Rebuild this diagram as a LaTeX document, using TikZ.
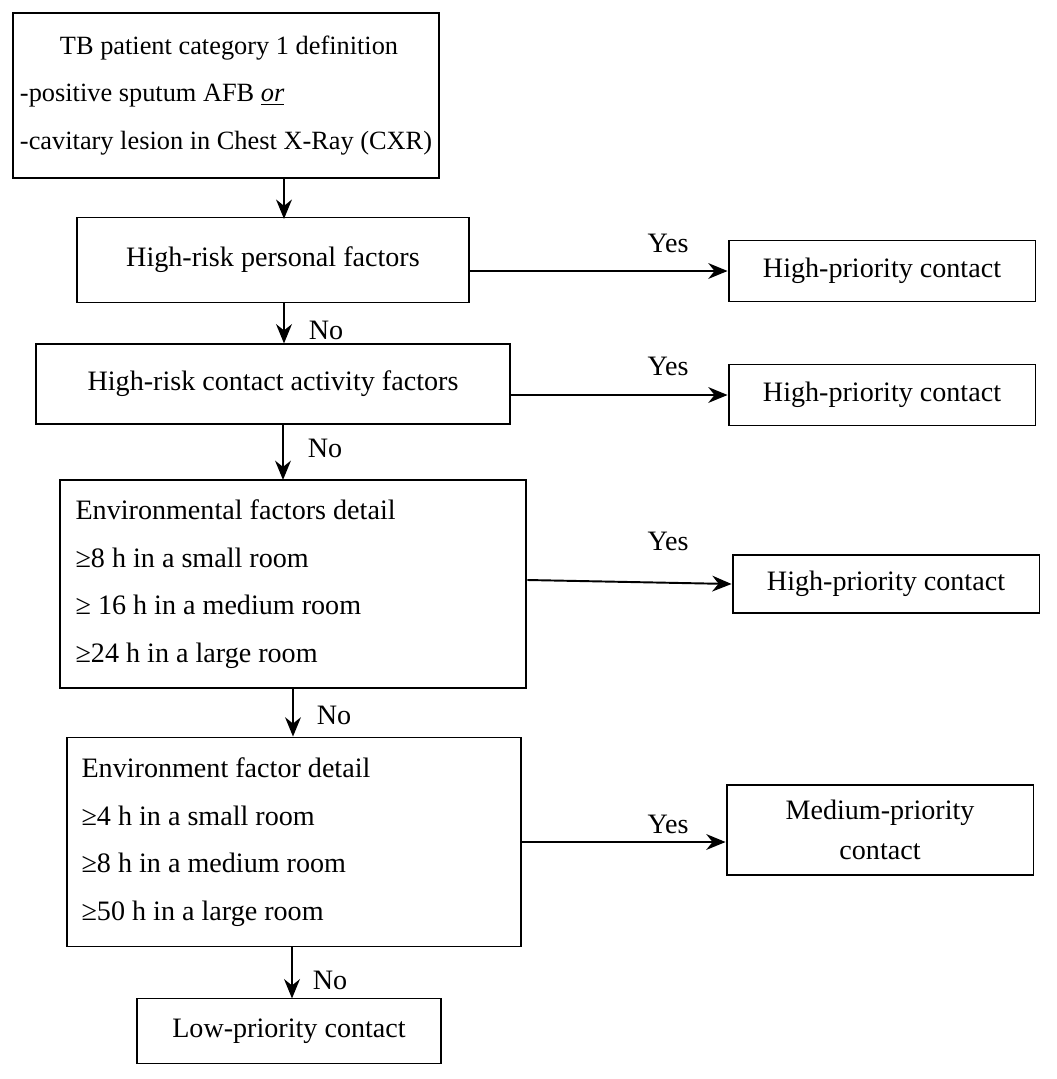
\documentclass[tikz,border=0pt]{standalone}
\usepackage{fontspec}
\setmainfont{Liberation Serif}
\usetikzlibrary{positioning,arrows.meta}
\begin{document}
\begin{tikzpicture}[x=0.02cm,y=-0.02cm,->,>={Stealth[length=11pt,width=9pt]},line width=1.1pt,
  box/.style={draw,rectangle,inner sep=4pt,font=\fontsize{16}{27}\selectfont},
  lbl/.style={font=\fontsize{16}{20}\selectfont}]
\useasboundingbox (0,0) rectangle (1057,1079);

\node [box,font=\fontsize{15}{27}\selectfont,minimum width=7.78cm,minimum height=3.3cm,align=left,anchor=north west] (b1) at (12,12)
  {\hspace*{0.8cm}TB patient category 1 definition\\-positive sputum AFB \underline{\textit{or}}\\-cavitary lesion in Chest X-Ray (CXR)};
\node [box,minimum width=7.84cm,minimum height=1.7cm] (b2) at (273,260) {High-risk personal factors};
\node [box,minimum width=9.48cm,minimum height=1.6cm] (b3) at (273,384) {High-risk contact activity factors};
\node [box,minimum width=9.34cm,minimum height=4.16cm,align=flush left,text width=8.7cm] (b4) at (293,584)
  {Environmental factors detail\\≥8 h in a small room\\≥ 16 h in a medium room\\≥24 h in a large room};
\node [box,minimum width=9.08cm,minimum height=4.18cm,align=flush left,text width=8.5cm] (b5) at (294,842)
  {Environment factor detail\\≥4 h in a small room\\≥8 h in a medium room\\≥50 h in a large room};
\node [box,minimum width=6.08cm,minimum height=1.3cm] (b6) at (289,1031) {Low-priority contact};

\node [box,minimum width=6.14cm,minimum height=1.22cm] (r1) at (882,271) {High-priority contact};
\node [box,minimum width=6.14cm,minimum height=1.22cm] (r2) at (882,395) {High-priority contact};
\node [box,minimum width=6.14cm,minimum height=1.16cm] (r3) at (886,584) {High-priority contact};
\node [box,minimum width=6.14cm,minimum height=1.8cm,align=center] (r4) at (880,830) {Medium-priority\\[-4pt]contact};

\node [lbl] (n1) at (326,330) {No};
\node [lbl] (n2) at (325,448) {No};
\node [lbl] (n3) at (334,715) {No};
\node [lbl] (n4) at (330,980) {No};
\node [lbl] (y1) at (668,243) {Yes};
\node [lbl] (y2) at (668,366) {Yes};
\node [lbl] (y3) at (668,541) {Yes};
\node [lbl] (y4) at (668,824) {Yes};

\draw (b2.north |- b1.south) ++(11,0) -- ++(0,40);
\draw (b2.south) ++(11,0) -- ++(0,40);
\draw (b3.south) ++(10,0) -- ++(0,55);
\draw (b4.south) -- (b4.south |- b5.north);
\draw (b5.south) ++(-2,0) -- ++(0,51);

\draw (b2.east |- r1.west) -- (r1.west);
\draw (b3.east |- r2.west) -- (r2.west);
\draw (b4.east) ++(0,-4) -- (r3.west);
\draw (b5.east |- 0,842) -- (r4.west |- 0,842);
\end{tikzpicture}
\end{document}
